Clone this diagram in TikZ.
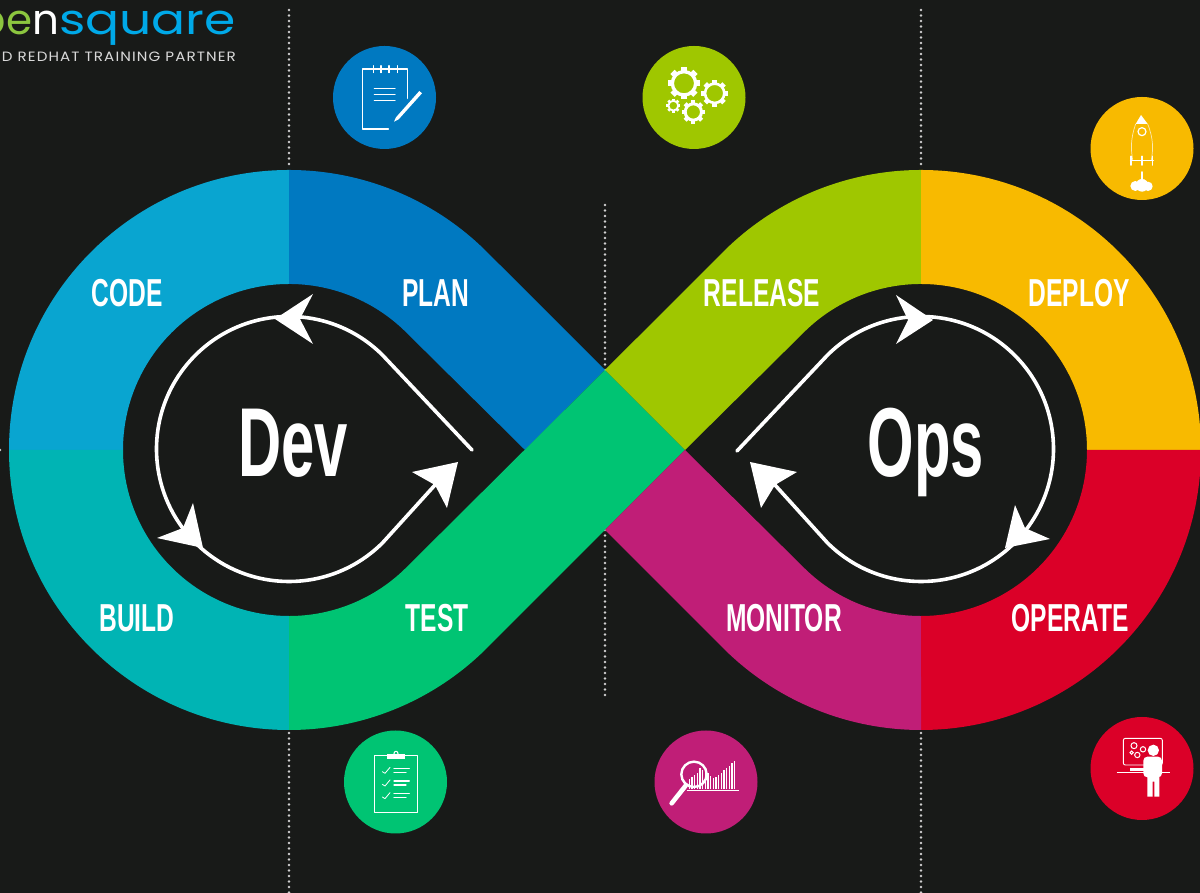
\documentclass[tikz,border=0pt]{standalone}
\usepackage{fontspec}
\usetikzlibrary{calc}
\newfontfamily\labf[FakeStretch=0.63]{Liberation Sans}
\newfontfamily\bigf[FakeStretch=0.61]{Liberation Sans}
\newfontfamily\logof[FakeStretch=1.2]{Poppins}
\newfontfamily\logofb[FakeStretch=1.0]{Poppins}
\newfontfamily\tagf[FakeStretch=1.12,LetterSpace=8]{Poppins}
\definecolor{bgc}{HTML}{181A18}
\definecolor{codec}{HTML}{09A5D0}
\definecolor{planc}{HTML}{0079C1}
\definecolor{buildc}{HTML}{00B4B4}
\definecolor{testc}{HTML}{00C473}
\definecolor{relc}{HTML}{9FC700}
\definecolor{depc}{HTML}{F8BA00}
\definecolor{opc}{HTML}{DB0028}
\definecolor{monc}{HTML}{C01E77}
\definecolor{logob}{HTML}{00A9E8}
\definecolor{logog}{HTML}{8CC63F}
\definecolor{dotc}{HTML}{D0D0D0}
\tikzset{
  seplines/.style={dotc,line width=2.8pt,line cap=round,dash pattern=on 0pt off 5.5pt},
  seglabel/.style={white,anchor=base,inner sep=0pt,font=\labf\bfseries\fontsize{39}{39}\selectfont},
  biglabel/.style={white,anchor=base,inner sep=0pt,font=\bigf\bfseries\fontsize{98}{98}\selectfont},
  badge/.style={circle,minimum size=103pt,inner sep=0pt,text width=0pt},
  loopline/.style={white,line width=3.6pt,line cap=round},
  zoomA/.style={shift={(320,863)},x=0.33333pt,y=-0.33333pt},
  zoomB/.style={shift={(1070,813)},x=0.33333pt,y=-0.33333pt},
  zoomC/.style={shift={(330,173)},x=0.33333pt,y=-0.33333pt},
  zoomD/.style={shift={(1070,193)},x=0.33333pt,y=-0.33333pt},
  ink/.style={white,line cap=round,line join=round},
}
% gear: centre x, y, outer radius, hole radius (zoom units)
\newcommand\mygear[4]{%
  \pgfmathsetmacro\gmid{(0.8*#3+#4)/2}%
  \pgfmathsetmacro\gw{(0.8*#3-#4)/3}%
  \pgfmathsetmacro\tw{#3*0.12}%
  \draw[white,line width=\gw pt] (#1,#2) circle[radius=\gmid];
  \foreach \a in {0,45,...,315}
    \draw[white,line width=\tw pt] ($(#1,#2)+(\a:0.72*#3)$) -- ($(#1,#2)+(\a:0.97*#3)$);
}
\begin{document}
\begin{tikzpicture}[x=1pt,y=1pt]
\useasboundingbox (0,0) rectangle (1200,893);
\fill[bgc] (0,0) rectangle (1200,893);

% separators
\draw[seplines] (289,883) -- (289,726);
\draw[seplines] (289,160) -- (289,0);
\draw[seplines] (921,883) -- (921,726);
\draw[seplines] (921,160) -- (921,0);
\draw[seplines] (605,688) -- (605,523);
\draw[seplines] (605,363) -- (605,198);
\draw[seplines] (0,443) -- (2,443);

% infinity band
\fill[codec] (9,443) arc[start angle=180,end angle=90,radius=280] -- (289,609) arc[start angle=90,end angle=180,radius=166] -- cycle;
\fill[planc] (289,723) arc[start angle=90,end angle=45,radius=280] -- (605,523) -- (525,443) -- (406.4,560.4) arc[start angle=45,end angle=90,radius=166] -- cycle;
\fill[buildc] (9,443) arc[start angle=180,end angle=270,radius=280] -- (289,277) arc[start angle=270,end angle=180,radius=166] -- cycle;
\fill[testc] (289,163) arc[start angle=270,end angle=315,radius=280] -- (685,443) -- (605,523) -- (406.4,325.6) arc[start angle=315,end angle=270,radius=166] -- cycle;
\fill[relc] (921,723) arc[start angle=90,end angle=135,radius=280] -- (605,523) -- (685,443) -- (803.6,560.4) arc[start angle=135,end angle=90,radius=166] -- cycle;
\fill[depc] (921,723) arc[start angle=90,end angle=0,radius=280] -- (1087,443) arc[start angle=0,end angle=90,radius=166] -- cycle;
\fill[opc] (1201,443) arc[start angle=0,end angle=-90,radius=280] -- (921,277) arc[start angle=-90,end angle=0,radius=166] -- cycle;
\fill[monc] (921,163) arc[start angle=270,end angle=225,radius=280] -- (605,363) -- (685,443) -- (803.6,325.6) arc[start angle=225,end angle=270,radius=166] -- cycle;

% labels
\node[seglabel] (code) at (127,586) {CODE};
\node[seglabel] (plan) at (436,586) {PLAN};
\node[seglabel] (release) at (762,586) {RELEASE};
\node[seglabel] (deploy) at (1079,586) {DEPLOY};
\node[seglabel] (build) at (137,261) {BUILD};
\node[seglabel] (test) at (437,261) {TEST};
\node[seglabel] (monitor) at (784,261) {MONITOR};
\node[seglabel] (operate) at (1070,261) {OPERATE};
\node[biglabel] (dev) at (293,416) {Dev};
\node[biglabel] (ops) at (926,416) {Ops};

% Dev loop
\coordinate (devstart) at (472,443);
\coordinate (devend) at (435,408);
\draw[loopline] (devstart) -- (382.7,537.7) arc[start angle=45,end angle=315,radius=132.5] -- (devend);
\fill[white] (275,574) -- (313,599) -- (300,574) -- (313,549) -- cycle;
\fill[white] (203,345) -- (157,355) -- (183,365) -- (193,390) -- cycle;
\fill[white] (458,431) -- (412,421) -- (435,408) -- (447,385) -- cycle;

% Ops loop
\coordinate (opsstart) at (737,442);
\coordinate (opsend) at (775,408);
\draw[loopline] (opsstart) -- (827.3,537.7) arc[start angle=135,end angle=-135,radius=132.5] -- (opsend);
\fill[white] (933,573) -- (896,598) -- (908,573) -- (896,549) -- cycle;
\fill[white] (1005,345) -- (1050,354) -- (1025,365) -- (1015,388) -- cycle;
\fill[white] (750,431) -- (797,421) -- (775,408) -- (761,385) -- cycle;

% badges
\node[badge,fill=planc] (bplan) at (384.5,795.5) {};
\node[badge,fill=relc] (brel) at (694,795.5) {};
\node[badge,fill=depc] (bdep) at (1142,744.5) {};
\node[badge,fill=testc] (btest) at (395.5,111) {};
\node[badge,fill=monc] (bmon) at (706,111) {};
\node[badge,fill=opc] (bop) at (1142,124.5) {};

% notepad and gears
\begin{scope}[zoomA]
  \draw[ink,line width=1.5pt] (262,205) -- (262,117) -- (127,117) -- (127,297) -- (205,297);
  \foreach \x in {160,183,207,232} \draw[ink,line width=1.1pt] (\x,107) -- (\x,128);
  \foreach \y in {175,193,212} \draw[ink,line width=1.3pt] (163,\y) -- (225,\y);
  \fill[white] (222,275) -- (228,262) -- (298,183) -- (306,190) -- (236,268) -- cycle;
  \mygear{1092}{160}{50}{30}
  \mygear{1184}{190}{41}{25}
  \mygear{1120}{246}{36}{20}
  \mygear{1060}{227}{22}{12}
\end{scope}

% rocket
\begin{scope}[zoomB]
  \fill[white] (213,105) -- (197,132) -- (233,132) -- cycle;
  \draw[white,opacity=.7,line width=.7pt] (197,132) .. controls (182,175) and (182,205) .. (188,240);
  \draw[white,opacity=.7,line width=.7pt] (233,132) .. controls (250,175) and (250,205) .. (244,240);
  \draw[white,line width=1.2pt] (216,155) circle[radius=12];
  \draw[ink,line width=1.6pt] (182,241) -- (250,241);
  \foreach \x in {183,216,248} \draw[ink,line width=1.6pt] (\x,229) -- (\x,255);
  \draw[ink,line width=1.5pt] (216,276) -- (216,310);
  \fill[white] (196,318) circle[radius=15] (216,316) circle[radius=19] (234,319) circle[radius=14];
\end{scope}

% clipboard and magnifier
\begin{scope}[zoomC]
  \draw[ink,line width=1.4pt] (172,107) -- (133,107) -- (133,277) -- (262,277) -- (262,107) -- (225,107);
  \fill[white] (172,103) rectangle (225,117);
  \draw[white,line width=1pt] (198,100) circle[radius=6];
  \foreach \dy in {0,38,76} {
    \draw[ink,line width=.8pt] (157,\dy+155) -- (165,\dy+160) -- (180,\dy+142);
    \draw[ink,line width=1.1pt] (192,\dy+145) -- (238,\dy+145);
    \draw[ink,line width=1.1pt] (192,\dy+157) -- (228,\dy+157);
  }
  \foreach \x/\t in {1078/178,1086/170,1094/165,1102/158,1110/145,1118/150,1126/155,1134/158,1142/168,1150/175,1158/170,1166/165,1174/158,1182/150,1190/143,1198/137,1206/130,1214/122}
    \draw[white,line width=1.5pt] (\x,208) -- (\x,\t);
  \draw[white,line width=1.3pt] (1070,212) -- (1228,212);
  \draw[white,line width=2.4pt] (1092,163) circle[radius=38];
  \draw[ink,line width=4.6pt] (1067,197) -- (1025,250);
\end{scope}

% presenter
\begin{scope}[zoomD]
  \draw[white,line width=.9pt,rounded corners=2pt] (160,195) rectangle (277,115);
  \draw[white,line width=1pt] (192,137) circle[radius=9];
  \draw[white,line width=1pt] (219,148) circle[radius=8];
  \draw[white,line width=1pt] (202,165) circle[radius=8];
  \draw[white,line width=1pt] (185,158) circle[radius=5];
  \fill[white] (180,204) rectangle (222,212);
  \draw[white,line width=1.6pt] (140,217) -- (300,217);
  \fill[white] (250,151) circle[radius=17];
  \fill[white,rounded corners=4pt] (220,170) rectangle (276,232);
  \fill[white] (232,225) -- (232,290) -- (248,290) -- (248,245) -- (253,245) -- (253,290) -- (268,290) -- (268,225) -- cycle;
\end{scope}

% logo
\node[anchor=base east,inner sep=0pt,font=\logof\fontsize{42}{42}\selectfont] (logo) at (236,858)
  {{\logofb\textcolor{logog}{pe}\textcolor{white}{n}}\textcolor{logob}{square}};
\node[anchor=base east,inner sep=0pt,white!85!black,font=\tagf\fontsize{13.5}{14}\selectfont] (tagline) at (236,831) {ED REDHAT TRAINING PARTNER};
\end{tikzpicture}
\end{document}
